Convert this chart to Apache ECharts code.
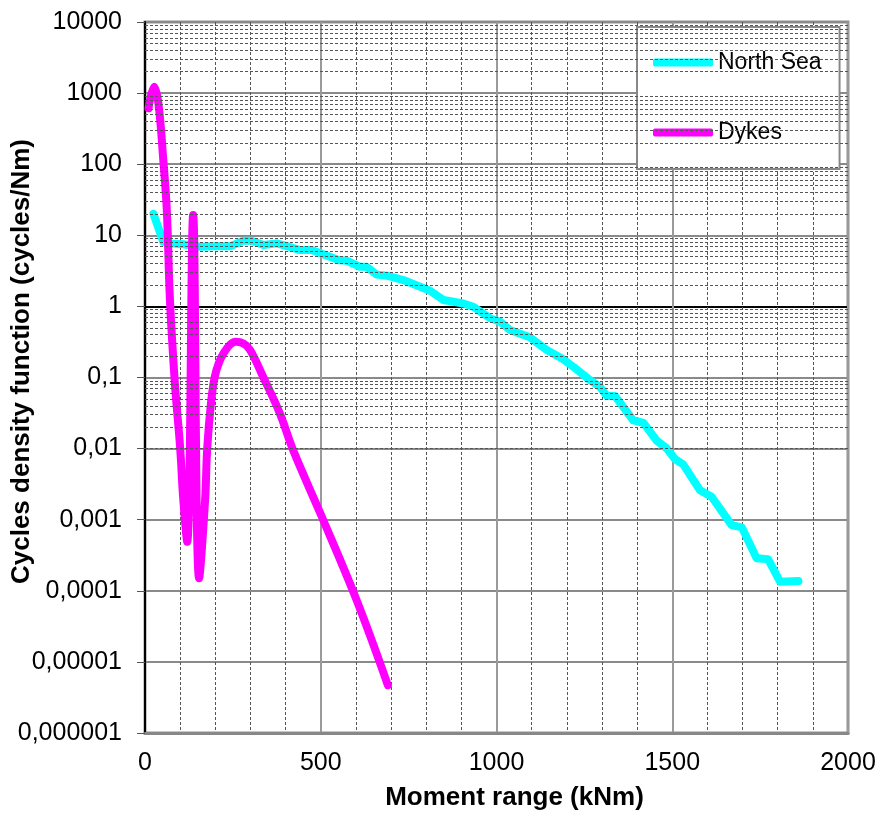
<!DOCTYPE html>
<html>
<head>
<meta charset="utf-8">
<script src="https://cdn.jsdelivr.net/npm/echarts@6/dist/echarts.min.js"></script>
<style>
  html, body { margin: 0; padding: 0; background: #fff; }
  #myChart { width: 881px; height: 816px; }
</style>
</head>
<body>
<div id="myChart"></div>
<script>
    // data: [moment range kNm, cycles density]
    var northSea = [
        [24, 20], [52, 8.1], [71, 7.7], [109, 7.5], [156, 6.9], [194, 7.0], [242, 7.0],
        [280, 8.4], [303, 8.4], [337, 7.3], [375, 7.7], [393, 7.3], [441, 6.2], [474, 6.2],
        [526, 5.0], [550, 4.5], [574, 4.4], [612, 3.6], [631, 3.6], [659, 2.8], [688, 2.7],
        [735, 2.35], [811, 1.66], [849, 1.23], [906, 1.10], [934, 0.99], [982, 0.68],
        [1010, 0.61], [1038, 0.466], [1095, 0.367], [1143, 0.244], [1190, 0.18], [1218, 0.142],
        [1266, 0.092], [1294, 0.074], [1314, 0.055], [1337, 0.055], [1389, 0.025], [1418, 0.023],
        [1456, 0.0129], [1484, 0.0101], [1508, 0.0071], [1531, 0.006], [1579, 0.0026],
        [1612, 0.0021], [1669, 0.00084], [1698, 0.00078], [1740, 0.000287], [1773, 0.000277],
        [1807, 0.000134], [1859, 0.000137]
    ];
    var dykes = [
        [10, 611], [26, 1230], [38, 725], [52, 115], [62, 22.7], [71, 1.23], [85, 0.083],
        [100, 0.0102], [109, 0.0019], [120, 0.00049], [137, 19.3], [154, 0.00015],
        [171, 0.0019], [177, 0.0101], [188, 0.045], [198, 0.1], [210, 0.16], [225, 0.225],
        [242, 0.29], [258, 0.318], [280, 0.3], [299, 0.244], [337, 0.1], [384, 0.031],
        [421, 0.0096], [503, 0.0011], [602, 0.000074], [691, 0.0000047]
    ];
    var yTickLabels = ['0,000001', '0,00001', '0,0001', '0,001', '0,01', '0,1', '1', '10', '100', '1000', '10000'];
    var xTickLabels = ['0', '500', '1000', '1500', '2000'];
    var seriesNames = ['North Sea', 'Dykes'];

    var myChart = echarts.init(document.getElementById('myChart'));

    // minor log gridlines 2..9 inside each decade
    function minorLogLines() {
        var lines = [];
        for (var k = -6; k < 4; k++) {
            for (var m = 2; m <= 9; m++) {
                lines.push({ yAxis: m * Math.pow(10, k) });
            }
        }
        return lines;
    }

    var font = 'Liberation Sans, Arial, sans-serif';
    var majorColors = [];
    for (var i = 0; i < yTickLabels.length; i++) {
        majorColors.push(yTickLabels[i] === '1' ? '#000' : '#8a8a8a');
    }

    var option = {
        backgroundColor: '#fff',
        animation: false,
        grid: {
            left: 145, top: 22, right: 33, bottom: 83,
            outerBoundsMode: 'none',
            containLabel: false,
            show: true, borderColor: '#8f8f8f', borderWidth: 3
        },
        legend: {
            data: seriesNames,
            orient: 'vertical',
            left: 637, top: 27,
            padding: [24, 18, 25, 16],
            itemGap: 47,
            itemWidth: 60, itemHeight: 8,
            icon: 'roundRect',
            backgroundColor: '#fff',
            borderColor: '#888', borderWidth: 2,
            textStyle: { fontSize: 23, color: '#000', fontFamily: font }
        },
        xAxis: {
            type: 'value',
            min: 0, max: 2000, interval: 500,
            name: 'Moment range (kNm)',
            nameLocation: 'middle',
            nameGap: 52,
            nameMoveOverlap: false,
            nameTextStyle: { fontSize: 26, fontWeight: 'bold', color: '#000', fontFamily: font, padding: [0, 0, 0, 36] },
            axisLine: { lineStyle: { color: '#888', width: 3 } },
            axisTick: { show: false },
            axisLabel: {
                fontSize: 25, color: '#000', fontFamily: font, margin: 18,
                formatter: function (v) { return xTickLabels[Math.round(v / 500)]; }
            },
            splitLine: { show: true, lineStyle: { color: '#9a9a9a', width: 2 } },
            minorTick: { show: false, splitNumber: 5 },
            minorSplitLine: { show: true, lineStyle: { color: '#555', width: 1, type: [3, 2] } }
        },
        yAxis: {
            type: 'log',
            logBase: 10,
            min: 0.000001, max: 10000,
            interval: 1,
            splitNumber: 10,
            name: 'Cycles density function (cycles/Nm)',
            nameLocation: 'middle',
            nameGap: 110,
            nameMoveOverlap: false,
            nameTextStyle: { fontSize: 26, fontWeight: 'bold', color: '#000', fontFamily: font, padding: [0, 0, 0, 32] },
            axisLine: { lineStyle: { color: '#000', width: 2 } },
            axisTick: { show: true, length: 8, lineStyle: { color: '#555', width: 1 } },
            axisLabel: {
                fontSize: 25, color: '#000', fontFamily: font, margin: 23,
                formatter: function (v) { return yTickLabels[Math.round(Math.log10(v)) + 6]; }
            },
            splitLine: { show: true, lineStyle: { color: majorColors, width: 2 } }
        },
        series: [
            {
                name: 'gridlines',
                type: 'line',
                data: [],
                z: 1,
                silent: true,
                markLine: {
                    silent: true,
                    symbol: 'none',
                    label: { show: false },
                    animation: false,
                    lineStyle: { color: '#555', width: 1, type: [3, 2] },
                    data: minorLogLines()
                }
            },
            {
                name: seriesNames[0],
                type: 'line',
                data: northSea,
                z: 3,
                showSymbol: false,
                symbol: 'none',
                color: '#00ffff',
                lineStyle: { color: '#00ffff', width: 8, cap: 'round', join: 'round' }
            },
            {
                name: seriesNames[1],
                type: 'line',
                data: dykes,
                z: 4,
                smooth: 0.4,
                showSymbol: false,
                symbol: 'none',
                color: '#ff00ff',
                lineStyle: { color: '#ff00ff', width: 8, cap: 'round', join: 'round' }
            }
        ]
    };

    myChart.setOption(option);
</script>
</body>
</html>
